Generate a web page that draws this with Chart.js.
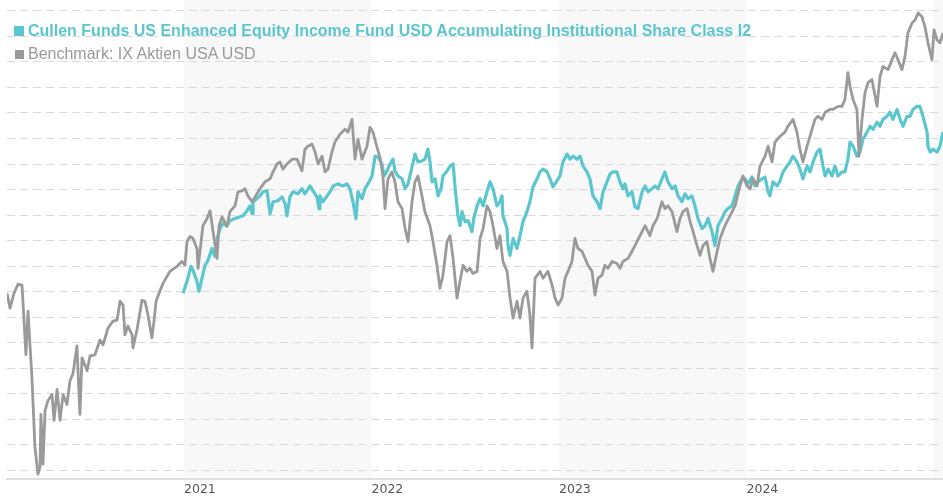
<!DOCTYPE html>
<html>
<head>
<meta charset="utf-8">
<title>Cullen Funds US Enhanced Equity Income Fund</title>
<script src="https://cdn.jsdelivr.net/npm/chart.js@4.4.1/dist/chart.umd.min.js"></script>
<style>
  html, body { margin: 0; padding: 0; background: #fff; }
  #wrap { position: relative; width: 943px; height: 500px; }
  #legend {
    position: absolute; left: 14px; top: 18.5px; z-index: 2;
    font-family: "Liberation Sans", Arial, sans-serif; font-size: 16px; line-height: 23px;
    white-space: nowrap; pointer-events: none;
  }
  #legend .fund { color: #5bc6ce; font-weight: bold; }
  #legend .bench { color: #999999; }
  #legend .sq { display: inline-block; margin-right: 4px; }
  #legend .fund .sq { width: 10px; height: 10px; background: #5bc6ce; }
  #legend .bench .sq { width: 9px; height: 9px; background: #999999; margin-left: 1px; }
</style>
</head>
<body>
<div id="wrap">
  <canvas id="chart" width="943" height="500"></canvas>
  <div id="legend">
    <div class="fund"><span class="sq"></span>Cullen Funds US Enhanced Equity Income Fund USD Accumulating Institutional Share Class I2</div>
    <div class="bench"><span class="sq"></span>Benchmark: IX Aktien USA USD</div>
  </div>
</div>
<script>
// time in fractional years, values in index points (no y labels on the original)
const benchYears = [
  2020.056, 2020.072, 2020.093, 2020.115, 2020.136, 2020.141, 2020.157, 2020.168, 2020.189, 2020.205,
  2020.221, 2020.232, 2020.237, 2020.248, 2020.259, 2020.275, 2020.296, 2020.307, 2020.323, 2020.339,
  2020.355, 2020.376, 2020.392, 2020.408, 2020.429, 2020.445, 2020.456, 2020.483, 2020.499, 2020.525,
  2020.552, 2020.568, 2020.595, 2020.621, 2020.643, 2020.659, 2020.675, 2020.685, 2020.701, 2020.723,
  2020.728, 2020.749, 2020.776, 2020.792, 2020.808, 2020.829, 2020.840, 2020.851, 2020.867, 2020.888,
  2020.925, 2020.963, 2020.989, 2021.005, 2021.016, 2021.032, 2021.048, 2021.069, 2021.075, 2021.085,
  2021.101, 2021.123, 2021.139, 2021.155, 2021.176, 2021.187, 2021.203, 2021.229, 2021.245, 2021.272,
  2021.288, 2021.309, 2021.325, 2021.341, 2021.363, 2021.379, 2021.405, 2021.432, 2021.459, 2021.475,
  2021.496, 2021.512, 2021.528, 2021.549, 2021.576, 2021.603, 2021.629, 2021.645, 2021.661, 2021.683,
  2021.699, 2021.715, 2021.736, 2021.752, 2021.768, 2021.789, 2021.805, 2021.832, 2021.859, 2021.875,
  2021.896, 2021.912, 2021.928, 2021.949, 2021.976, 2021.992, 2022.008, 2022.029, 2022.045, 2022.061,
  2022.072, 2022.088, 2022.109, 2022.125, 2022.141, 2022.163, 2022.179, 2022.195, 2022.216, 2022.232,
  2022.248, 2022.269, 2022.285, 2022.312, 2022.328, 2022.349, 2022.365, 2022.381, 2022.403, 2022.419,
  2022.435, 2022.456, 2022.472, 2022.488, 2022.509, 2022.525, 2022.541, 2022.563, 2022.579, 2022.595,
  2022.616, 2022.632, 2022.648, 2022.669, 2022.685, 2022.701, 2022.723, 2022.739, 2022.755, 2022.776,
  2022.792, 2022.808, 2022.829, 2022.845, 2022.856, 2022.872, 2022.899, 2022.915, 2022.941, 2022.963,
  2022.979, 2022.995, 2023.016, 2023.032, 2023.048, 2023.069, 2023.085, 2023.101, 2023.123, 2023.139,
  2023.155, 2023.176, 2023.192, 2023.208, 2023.229, 2023.245, 2023.261, 2023.283, 2023.309, 2023.325,
  2023.341, 2023.368, 2023.389, 2023.416, 2023.443, 2023.459, 2023.485, 2023.501, 2023.523, 2023.549,
  2023.565, 2023.581, 2023.603, 2023.629, 2023.645, 2023.661, 2023.683, 2023.699, 2023.715, 2023.736,
  2023.752, 2023.768, 2023.789, 2023.805, 2023.821, 2023.843, 2023.859, 2023.885, 2023.912, 2023.939,
  2023.965, 2023.981, 2024.003, 2024.019, 2024.035, 2024.056, 2024.072, 2024.099, 2024.115, 2024.136,
  2024.152, 2024.179, 2024.205, 2024.221, 2024.248, 2024.269, 2024.285, 2024.301, 2024.323, 2024.339,
  2024.365, 2024.381, 2024.403, 2024.419, 2024.445, 2024.461, 2024.488, 2024.509, 2024.525, 2024.541,
  2024.552, 2024.568, 2024.589, 2024.600, 2024.616, 2024.632, 2024.648, 2024.669, 2024.696, 2024.712,
  2024.728, 2024.755, 2024.776, 2024.792, 2024.808, 2024.829, 2024.845, 2024.861, 2024.883, 2024.899,
  2024.915, 2024.936, 2024.952, 2024.968, 2024.989, 2025.000, 2025.016, 2025.032, 2025.048
];
const benchValues = [
  69.3, 63.5, 69.3, 72.9, 72.5, 66.2, 45.2, 62.3, 36.2, 9.0,
  -1.6, 1.2, 21.8, 2.3, 23.4, 27.3, 29.6, 19.5, 31.6, 19.5,
  29.6, 25.7, 35.1, 37.8, 48.7, 21.8, 44.0, 39.0, 44.8, 45.2,
  51.0, 49.1, 55.7, 58.4, 58.8, 66.2, 64.7, 53.0, 56.5, 53.0,
  47.9, 54.9, 66.6, 66.2, 60.8, 51.8, 58.4, 66.2, 69.3, 73.2,
  77.9, 79.9, 81.8, 80.3, 89.6, 91.6, 90.8, 86.9, 79.1, 85.7,
  95.8, 98.6, 101.7, 93.5, 83.0, 95.8, 99.3, 95.5, 101.3, 103.6,
  109.1, 109.5, 110.3, 107.5, 105.2, 107.1, 110.3, 113.0, 114.2, 116.9,
  120.0, 120.8, 118.0, 120.0, 121.9, 121.9, 117.3, 125.8, 127.0, 127.8,
  124.7, 120.0, 123.1, 116.9, 118.0, 124.7, 128.6, 131.7, 133.6, 132.5,
  137.5, 121.9, 129.7, 121.9, 127.0, 134.4, 132.5, 126.6, 122.7, 115.3,
  102.5, 114.2, 116.9, 113.0, 105.2, 102.5, 94.7, 89.6, 105.2, 113.0,
  115.3, 107.5, 101.3, 95.8, 89.6, 80.3, 71.3, 76.4, 89.6, 91.9,
  83.0, 67.4, 74.0, 80.3, 77.9, 79.1, 77.1, 77.9, 90.8, 94.7,
  103.6, 101.3, 95.8, 86.9, 91.9, 81.8, 77.9, 67.4, 59.6, 66.2,
  59.6, 67.4, 70.1, 60.8, 47.9, 75.2, 77.9, 75.2, 77.9, 72.5,
  67.4, 64.7, 67.4, 75.2, 77.9, 81.8, 90.8, 86.9, 85.7, 83.0,
  80.3, 77.9, 68.6, 75.2, 76.4, 80.3, 79.1, 81.8, 81.0, 79.1,
  81.8, 83.0, 85.7, 89.6, 93.5, 95.8, 91.9, 95.8, 98.6, 105.2,
  102.5, 103.6, 101.3, 93.5, 98.6, 101.3, 102.5, 97.4, 93.5, 88.0,
  84.2, 88.0, 89.6, 83.0, 77.9, 85.7, 90.8, 95.8, 99.7, 103.6,
  111.4, 115.3, 111.4, 110.3, 114.2, 111.4, 119.2, 123.1, 127.0, 120.8,
  128.6, 130.9, 132.5, 134.8, 137.5, 132.5, 125.8, 120.8, 127.0, 130.9,
  137.5, 138.7, 137.5, 140.3, 141.4, 141.4, 142.6, 142.6, 145.3, 155.8,
  150.4, 145.3, 141.4, 123.1, 137.5, 148.0, 151.9, 153.1, 142.6, 154.3,
  158.2, 157.0, 160.9, 163.6, 160.9, 157.0, 162.1, 171.4, 175.3, 176.5,
  179.2, 177.7, 173.8, 167.5, 160.9, 172.6, 168.7, 167.5, 171.4
];

const fundYears = [
  2020.995, 2021.016, 2021.037, 2021.048, 2021.069, 2021.080, 2021.096, 2021.112, 2021.128, 2021.149,
  2021.165, 2021.176, 2021.192, 2021.208, 2021.229, 2021.245, 2021.272, 2021.299, 2021.315, 2021.336,
  2021.352, 2021.363, 2021.368, 2021.389, 2021.405, 2021.421, 2021.443, 2021.459, 2021.475, 2021.501,
  2021.523, 2021.539, 2021.549, 2021.565, 2021.581, 2021.608, 2021.629, 2021.645, 2021.672, 2021.688,
  2021.709, 2021.720, 2021.725, 2021.741, 2021.763, 2021.779, 2021.795, 2021.821, 2021.848, 2021.869,
  2021.885, 2021.901, 2021.917, 2021.928, 2021.949, 2021.965, 2021.981, 2022.003, 2022.019, 2022.035,
  2022.056, 2022.067, 2022.083, 2022.099, 2022.115, 2022.125, 2022.141, 2022.163, 2022.179, 2022.195,
  2022.216, 2022.232, 2022.248, 2022.269, 2022.285, 2022.301, 2022.312, 2022.323, 2022.339, 2022.355,
  2022.371, 2022.381, 2022.403, 2022.419, 2022.435, 2022.445, 2022.461, 2022.472, 2022.483, 2022.499,
  2022.515, 2022.536, 2022.547, 2022.563, 2022.579, 2022.595, 2022.616, 2022.632, 2022.648, 2022.669,
  2022.685, 2022.696, 2022.701, 2022.723, 2022.728, 2022.739, 2022.755, 2022.776, 2022.792, 2022.808,
  2022.829, 2022.845, 2022.861, 2022.883, 2022.899, 2022.915, 2022.936, 2022.952, 2022.968, 2022.989,
  2023.005, 2023.021, 2023.043, 2023.059, 2023.075, 2023.096, 2023.112, 2023.128, 2023.149, 2023.165,
  2023.181, 2023.203, 2023.219, 2023.235, 2023.256, 2023.272, 2023.288, 2023.309, 2023.325, 2023.341,
  2023.352, 2023.368, 2023.389, 2023.405, 2023.421, 2023.443, 2023.459, 2023.475, 2023.496, 2023.512,
  2023.528, 2023.549, 2023.565, 2023.581, 2023.603, 2023.619, 2023.635, 2023.656, 2023.672, 2023.688,
  2023.709, 2023.725, 2023.741, 2023.763, 2023.779, 2023.795, 2023.816, 2023.832, 2023.848, 2023.869,
  2023.885, 2023.901, 2023.923, 2023.939, 2023.955, 2023.976, 2023.992, 2024.008, 2024.029, 2024.045,
  2024.061, 2024.083, 2024.099, 2024.115, 2024.125, 2024.141, 2024.163, 2024.179, 2024.195, 2024.216,
  2024.232, 2024.248, 2024.269, 2024.285, 2024.301, 2024.323, 2024.339, 2024.355, 2024.376, 2024.392,
  2024.408, 2024.419, 2024.435, 2024.456, 2024.472, 2024.488, 2024.509, 2024.525, 2024.541, 2024.552,
  2024.568, 2024.589, 2024.605, 2024.621, 2024.643, 2024.659, 2024.675, 2024.696, 2024.712, 2024.728,
  2024.749, 2024.765, 2024.781, 2024.803, 2024.819, 2024.835, 2024.856, 2024.872, 2024.888, 2024.909,
  2024.925, 2024.941, 2024.963, 2024.968, 2024.979, 2024.995, 2025.016, 2025.032, 2025.048
];
const fundValues = [
  69.3, 74.0, 79.9, 78.3, 74.0, 70.1, 75.2, 80.3, 82.2, 86.9,
  83.8, 90.8, 94.7, 96.6, 95.8, 97.8, 98.6, 99.3, 99.7, 101.7,
  103.6, 100.5, 105.2, 106.4, 107.5, 109.1, 109.5, 100.5, 105.2, 105.6,
  107.1, 104.4, 99.7, 107.1, 109.1, 108.3, 110.3, 108.3, 111.4, 109.5,
  107.1, 102.5, 107.5, 105.2, 107.5, 109.1, 111.4, 112.2, 111.4, 112.2,
  110.3, 105.2, 98.6, 109.1, 106.4, 110.3, 112.2, 115.3, 123.1, 122.7,
  120.0, 115.3, 117.3, 120.0, 121.9, 117.3, 115.3, 114.2, 110.3, 112.2,
  118.8, 123.9, 120.8, 121.2, 121.9, 125.8, 120.8, 113.0, 114.2, 107.5,
  110.3, 115.3, 117.3, 119.2, 120.0, 111.4, 99.7, 95.8, 101.3, 97.4,
  97.8, 93.5, 99.3, 103.6, 106.4, 103.6, 109.1, 113.0, 110.3, 103.6,
  105.2, 107.5, 99.7, 94.7, 88.0, 84.2, 90.8, 86.9, 91.9, 97.4,
  101.3, 105.2, 111.0, 114.2, 116.9, 118.0, 116.9, 114.2, 111.0, 113.4,
  115.3, 120.8, 123.9, 121.9, 123.1, 121.9, 123.1, 119.2, 116.9, 114.2,
  107.5, 105.2, 102.5, 109.1, 113.0, 116.1, 116.9, 116.9, 113.0, 110.3,
  112.2, 107.5, 109.1, 103.2, 102.5, 109.1, 111.4, 109.1, 110.3, 111.4,
  110.3, 114.2, 116.9, 113.0, 110.3, 111.4, 107.5, 105.2, 108.3, 106.4,
  107.5, 103.6, 98.6, 94.7, 95.8, 98.6, 93.5, 88.0, 95.8, 98.6,
  101.3, 102.5, 103.6, 107.5, 111.4, 114.2, 114.2, 112.2, 114.9, 111.4,
  113.0, 114.2, 114.9, 109.1, 107.5, 113.0, 111.4, 113.4, 116.9, 119.2,
  120.8, 123.1, 120.8, 118.0, 114.2, 119.2, 116.9, 120.8, 124.7, 125.8,
  119.2, 115.3, 118.0, 115.3, 119.2, 115.3, 116.9, 116.9, 121.9, 128.6,
  127.0, 123.1, 124.7, 129.7, 132.5, 134.8, 133.6, 136.4, 134.8, 137.5,
  138.7, 140.3, 137.5, 141.4, 137.5, 134.8, 138.7, 138.7, 141.4, 142.6,
  142.6, 138.7, 132.5, 127.0, 124.7, 125.8, 124.7, 127.0, 132.5
];

const yearTicks = [2021, 2022, 2023, 2024];
const yearLabels = ['2021', '2022', '2023', '2024'];
const shadedYears = [2021, 2023, 2025];
const gridValues = [0, 10, 20, 30, 40, 50, 60, 70, 80, 90, 100, 110, 120, 130, 140, 150, 160, 170, 180];

const fundColor = '#5bc6ce';
const benchColor = '#9a9a9a';

// light grey bands behind every other calendar year
const yearBands = {
  id: 'yearBands',
  beforeDraw(chart) {
    const { ctx, chartArea, scales } = chart;
    const x = scales.x;
    ctx.save();
    ctx.fillStyle = '#f8f8f8';
    shadedYears.forEach(function(start) {
      const left = Math.max(x.getPixelForValue(start), chartArea.left);
      const right = Math.min(x.getPixelForValue(start + 1), chartArea.right);
      if (right > left) {
        ctx.fillRect(left, 0, right - left, chartArea.bottom);
      }
    });
    ctx.restore();
  }
};

new Chart(document.getElementById('chart').getContext('2d'), {
  type: 'line',
  data: {
    datasets: [{
      label: 'Cullen Funds US Enhanced Equity Income Fund USD Accumulating Institutional Share Class I2',
      data: fundYears.map((x, i) => ({ x: x, y: fundValues[i] })),
      borderColor: fundColor,
      borderWidth: 3.2,
      order: 1
    }, {
      label: 'Benchmark: IX Aktien USA USD',
      data: benchYears.map((x, i) => ({ x: x, y: benchValues[i] })),
      borderColor: benchColor,
      borderWidth: 2.8,
      order: 0
    }]
  },
  options: {
    responsive: false,
    devicePixelRatio: 1,
    animation: false,
    layout: { padding: { left: 7, right: 0, top: 0, bottom: 0 } },
    elements: {
      point: { radius: 0 },
      line: { tension: 0, borderJoinStyle: 'round' }
    },
    scales: {
      x: {
        type: 'linear',
        min: 2020.056,
        max: 2025.048,
        afterBuildTicks: function(scale) {
          scale.ticks = yearTicks.map(v => ({ value: v }));
        },
        grid: { display: false, drawTicks: false },
        border: { display: true, color: '#dedede', width: 2 },
        ticks: {
          align: 'start',
          maxRotation: 0,
          padding: 3,
          color: '#555555',
          font: { family: 'DejaVu Sans', size: 12.5 },
          callback: (value, index) => yearLabels[index]
        }
      },
      y: {
        type: 'linear',
        min: -3.5,
        max: 184.3,
        afterBuildTicks: function(scale) {
          scale.ticks = gridValues.map(v => ({ value: v }));
        },
        ticks: { display: false },
        grid: { color: '#d9d9d9', lineWidth: 1, drawTicks: false },
        border: { display: false, dash: [8, 5] }
      }
    },
    plugins: {
      legend: { display: false },
      tooltip: { enabled: false }
    }
  },
  plugins: [yearBands]
});
</script>
</body>
</html>
